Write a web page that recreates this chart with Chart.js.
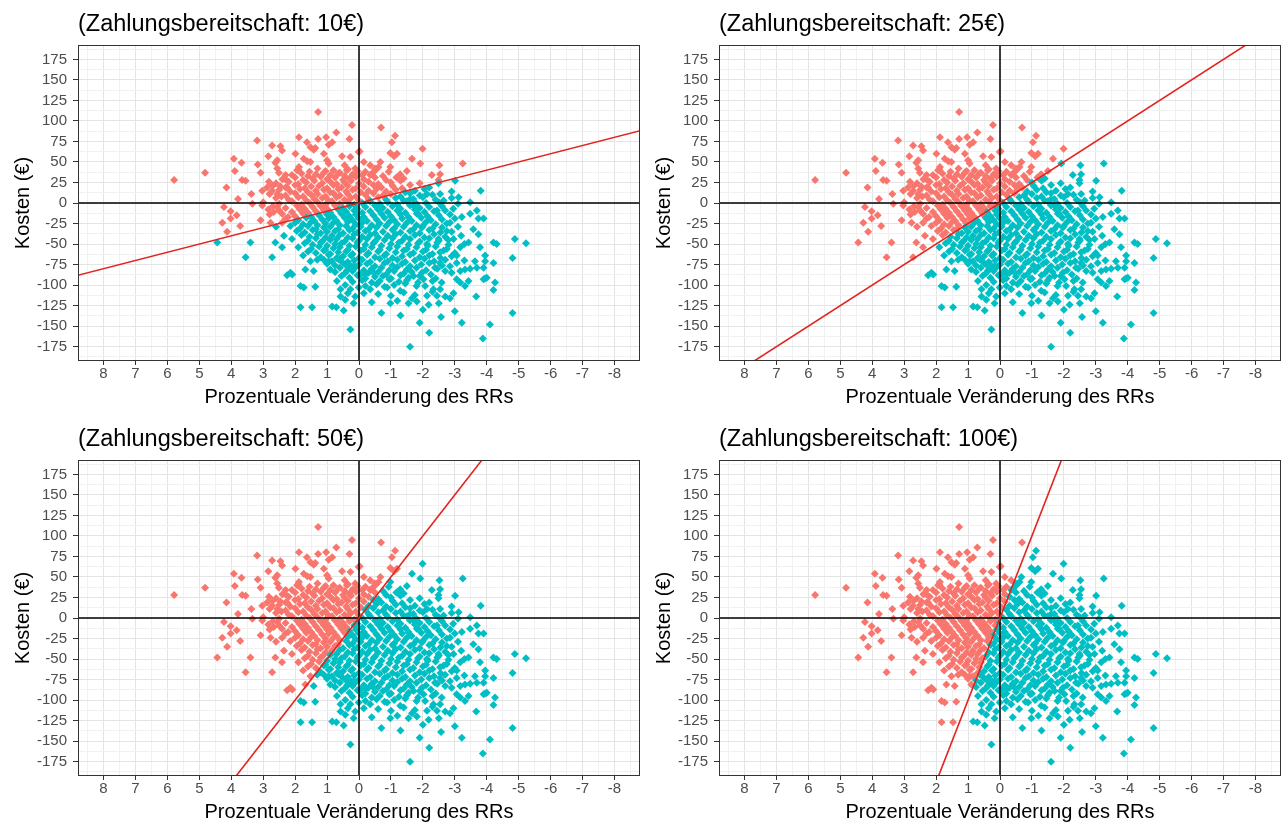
<!DOCTYPE html>
<html><head><meta charset="utf-8">
<script src="https://cdn.jsdelivr.net/npm/chart.js@4.4.1/dist/chart.umd.min.js"></script>
<style>
html,body{margin:0;padding:0;background:#fff;overflow:hidden;width:1282px;height:823px}
canvas{position:absolute}
</style></head><body>
<canvas id="p1" width="641" height="411" style="left:0;top:0"></canvas>
<canvas id="p2" width="641" height="411" style="left:641px;top:0"></canvas>
<canvas id="p3" width="641" height="411" style="left:0;top:415px"></canvas>
<canvas id="p4" width="641" height="411" style="left:641px;top:415px"></canvas>
<script>
// Zahlungsbereitschaft je Panel (€ pro Prozentpunkt RR-Veränderung)
const willingness = [10, 25, 50, 100];
const xTicks = [8,7,6,5,4,3,2,1,0,-1,-2,-3,-4,-5,-6,-7,-8];
const yTicks = [175,150,125,100,75,50,25,0,-25,-50,-75,-100,-125,-150,-175];
const xLimits = [-8.8, 8.8];
const yLimits = [-192.5, 192.5];

// [Veränderung RR (%), Kosten (€)]
const outerPoints = [
  [1.28,111],[0.22,95],[0.71,86],[3.19,76],[1.88,80],[1.63,74],[1.28,78],[1.03,80],[0.84,74],[0.95,71],[0.30,78],
  [2.72,70],[2.46,69],[2.41,64],[1.52,68],[1.42,65],[1.37,67],[1.99,60],[1.10,60],[0.53,57],[0.27,56],[0.01,62],
  [2.84,57],[2.56,52],[2.62,49],[1.73,54],[1.62,51],[1.52,50],[1.00,52],[0.95,48],[0.45,46],[3.92,54],[3.68,49],
  [3.17,47],[3.89,39],[3.08,37],[2.56,42],[2.51,37],[2.30,34],[1.94,40],[1.88,44],[0.38,40],[0.12,42],[4.82,37],
  [5.79,28],[3.66,28],[3.55,27],[2.82,26],[2.28,28],
  [-0.69,92],[-1.13,82],[-1.03,74],[-0.02,63],[-0.98,61],[-1.19,60],[-1.10,57],[-1.99,66],[-1.66,54],[-1.92,48],
  [-2.52,46],[-3.25,48],[-0.15,50],[-0.35,46],[-0.67,50],[-0.61,44],[-0.98,44],[-0.93,38],[-0.51,40],[-1.50,39],
  [-1.29,35],[-1.17,31],[-0.35,34],[-2.28,34],[-2.54,35],[-2.49,28],[-3.01,27],[-2.49,24],
  [4.15,19],[3.37,11],[3.79,5],[2.88,19],[3.03,15],[2.72,15],[2.56,11],[2.46,20],[2.25,19],[2.43,8],[4.23,-5],
  [4.02,-10],[3.83,-15],[4.02,-19],[4.28,-24],[3.72,-28],[4.13,-35],[3.34,-1],[3.03,-3],[2.84,-8],[2.67,-11],
  [2.56,-5],[2.41,-13],[2.22,-17],[3.08,-21],[2.77,-24],[2.41,-24],[4.44,-48],[3.40,-48],[3.55,-66],[2.62,-48],
  [2.41,-54],[2.72,-66],[2.15,-28],[2.35,-40],[2.25,-88],[2.15,-85],
  [1.52,-71],[1.31,-69],[0.95,-71],[1.68,-81],[1.42,-83],[2.09,-87],[1.83,-101],[1.73,-103],[1.37,-102],[0.69,-95],
  [0.58,-105],[0.43,-100],[0.27,-105],[0.58,-114],[0.43,-118],[0.12,-114],[0.17,-122],[1.83,-127],[1.47,-127],
  [0.84,-126],[0.71,-127],[0.48,-131],[0.27,-154],[-0.15,-110],[-0.35,-105],[-0.20,-87],[-0.46,-85],[-0.98,-122],
  [-1.29,-107],[-0.88,-103],[-1.60,-175],[-1.55,-122],[0.90,-81],[0.38,-83],[0.43,-75],[0.17,-77],[0.63,-69],[0.01,-103],
  [-4.81,-67],[-4.21,-73],[-4.26,-97],[-4.21,-106],[-3.95,-92],[-3.67,-114],[-4.81,-134],[-3.88,-165],[-3.22,-146],
  [-2.57,-139],[-2.00,-130],[-1.66,-116],[-1.81,-120],[-2.18,-124],[-2.13,-113],[-2.44,-113],[-2.70,-114],[-2.85,-116],
  [-2.96,-110],[-2.54,-105],[-2.33,-105],[-2.07,-101],[-2.02,-93],[-2.59,-97],[-3.06,-93],[-3.17,-97],[-3.32,-101],
  [-3.43,-95],[-3.90,-93],[-4.00,-91],[-3.69,-79],[-3.90,-79],[-3.48,-80],[-3.17,-83],[-3.32,-81],[-2.70,-83],
  [-2.85,-77],[-2.38,-79],[-1.97,-85],[-1.71,-89],[-2.54,-73],[-3.06,-73],[-3.63,-71],[-3.95,-71],
  [-3.81,15],[-3.12,7],[-3.48,1],[-3.69,-9],[-3.48,-13],[-3.22,-17],[-3.90,-19],[-3.74,-19],[-2.85,-24],[-3.58,-32],
  [-3.74,-38],[-4.21,-48],[-4.31,-50],[-4.88,-44],[-5.23,-49],[-3.43,-48],[-3.17,-54],[-2.96,-44],[-2.75,-34],
  [-2.49,-44],[-3.79,-54],[-3.95,-64],[-3.06,-64],[-2.54,-60],[-2.13,-50],[-1.97,-30],[-1.81,-13],[-2.13,11],
  [-2.54,11],[-2.65,3],[-2.44,-9],[-1.60,5],[-1.71,-3]
];

const coreUpper = [
  [1.9,41],[1.55,38],[1.3,42],[1.05,39],[0.8,40],[0.6,37],[0.35,41],[0.05,39],[-0.2,38],[-0.5,42],
  [2.1,34],[1.8,36],[1.6,33],[1.35,35],[1.1,37],[0.9,34],[0.65,36],[0.45,33],[0.2,35],[-0.1,34],[-0.4,36],[-0.75,33],
  [2.4,29],[2.0,31],[1.75,28],[1.45,30],[1.2,32],[1.0,29],[0.75,31],[0.5,28],[0.3,30],[0.1,32],[-0.15,29],[-0.5,31],[-0.85,28],[-1.4,30],
  [2.6,24],[2.2,26],[1.9,23],[1.65,25],[1.4,27],[1.15,24],[0.9,26],[0.7,23],[0.45,25],[0.25,27],[0.0,24],[-0.3,26],[-0.6,23],[-1.0,25],[-1.3,27],[-1.9,24],
  [2.7,21],[2.3,19],[2.0,22],[1.7,18],[1.5,20],[1.25,21],[1.0,18],[0.8,22],[0.55,19],[0.35,21],[0.1,18],[-0.15,20],[-0.45,22],[-0.7,19],[-1.05,21],[-1.35,18],[-1.6,22],[-2.2,19],
  [2.5,16],[2.15,14],[1.85,17],[1.6,13],[1.35,15],[1.1,16],[0.9,13],[0.65,17],[0.4,14],[0.2,16],[-0.05,13],[-0.3,15],[-0.55,17],[-0.85,14],[-1.15,16],[-1.45,13],[-1.75,15],[-2.05,17],[-2.9,14],
  [2.8,11],[2.3,9],[2.0,12],[1.75,8],[1.5,10],[1.3,11],[1.05,8],[0.8,12],[0.6,9],[0.35,11],[0.1,8],[-0.2,10],[-0.45,12],[-0.75,9],[-1.0,11],[-1.3,8],[-1.6,12],[-1.9,9],[-2.3,10],
  [2.6,6],[2.2,4],[1.9,7],[1.65,3],[1.4,5],[1.15,6],[0.95,3],[0.7,7],[0.45,4],[0.25,6],[0.0,3],[-0.3,5],[-0.6,7],[-0.85,4],[-1.15,6],[-1.4,3],[-1.7,5],[-2.0,7],[-2.4,4],[-2.9,6],
  [3.0,1],[2.5,-1],[2.1,2],[1.8,-2],[1.55,0],[1.3,1],[1.05,-2],[0.85,2],[0.6,-1],[0.35,1],[0.15,-2],[-0.1,0],[-0.35,2],[-0.65,-1],[-0.9,1],[-1.2,-2],[-1.5,2],[-1.8,-1],[-2.1,0],[-2.5,1],[-3.1,-1]
];

const coreLower = [
  [2.7,-4],[2.3,-6],[1.95,-3],[1.7,-7],[1.45,-5],[1.2,-4],[1.0,-7],[0.75,-3],[0.5,-6],[0.3,-4],[0.05,-7],[-0.2,-5],[-0.5,-3],[-0.75,-6],[-1.05,-4],[-1.3,-7],[-1.6,-3],[-1.9,-6],[-2.2,-5],[-2.6,-4],[-2.95,-7],
  [2.5,-9],[2.1,-11],[1.85,-8],[1.6,-12],[1.35,-10],[1.1,-9],[0.9,-12],[0.65,-8],[0.4,-11],[0.15,-9],[-0.1,-12],[-0.35,-10],[-0.6,-8],[-0.9,-11],[-1.2,-9],[-1.45,-12],[-1.75,-8],[-2.05,-11],[-2.35,-10],[-2.7,-9],
  [2.8,-14],[2.0,-16],[1.75,-13],[1.5,-17],[1.25,-15],[1.0,-14],[0.8,-17],[0.55,-13],[0.3,-16],[0.1,-14],[-0.15,-17],[-0.45,-15],[-0.7,-13],[-1.0,-16],[-1.3,-14],[-1.55,-17],[-1.85,-13],[-2.15,-16],[-2.5,-15],[-2.85,-14],
  [2.3,-19],[1.9,-21],[1.65,-18],[1.4,-22],[1.15,-20],[0.95,-19],[0.7,-22],[0.45,-18],[0.2,-21],[0.0,-19],[-0.25,-22],[-0.55,-20],[-0.8,-18],[-1.1,-21],[-1.35,-19],[-1.65,-22],[-1.95,-18],[-2.25,-21],[-2.6,-20],[-3.0,-19],
  [2.0,-24],[1.75,-26],[1.5,-23],[1.3,-27],[1.05,-25],[0.8,-24],[0.6,-27],[0.35,-23],[0.1,-26],[-0.1,-24],[-0.4,-27],[-0.65,-25],[-0.95,-23],[-1.2,-26],[-1.5,-24],[-1.8,-27],[-2.1,-23],[-2.4,-26],[-2.75,-25],
  [2.6,-29],[1.85,-31],[1.6,-28],[1.35,-32],[1.1,-30],[0.9,-29],[0.65,-32],[0.4,-28],[0.2,-31],[-0.05,-29],[-0.3,-32],[-0.55,-30],[-0.85,-28],[-1.1,-31],[-1.4,-29],[-1.7,-32],[-2.0,-28],[-2.3,-31],[-2.6,-30],[-3.1,-29],
  [1.95,-34],[1.7,-36],[1.45,-33],[1.2,-37],[1.0,-35],[0.75,-34],[0.5,-37],[0.3,-33],[0.05,-36],[-0.2,-34],[-0.5,-37],[-0.75,-35],[-1.05,-33],[-1.3,-36],[-1.6,-34],[-1.9,-37],[-2.2,-33],[-2.55,-36],[-2.9,-35],
  [1.8,-39],[1.55,-41],[1.3,-38],[1.05,-42],[0.85,-40],[0.6,-39],[0.35,-42],[0.15,-38],[-0.1,-41],[-0.35,-39],[-0.6,-42],[-0.9,-40],[-1.15,-38],[-1.45,-41],[-1.75,-39],[-2.05,-42],[-2.35,-38],[-2.7,-41],[-3.2,-40],
  [2.1,-44],[1.6,-46],[1.35,-43],[1.15,-47],[0.9,-45],[0.7,-44],[0.45,-47],[0.2,-43],[0.0,-46],[-0.25,-44],[-0.5,-47],[-0.8,-45],[-1.05,-43],[-1.35,-46],[-1.6,-44],[-1.9,-47],[-2.2,-43],[-2.5,-46],[-2.8,-45],
  [1.7,-49],[1.45,-51],[1.2,-48],[1.0,-52],[0.75,-50],[0.55,-49],[0.3,-52],[0.05,-48],[-0.2,-51],[-0.45,-49],[-0.7,-52],[-1.0,-50],[-1.25,-48],[-1.55,-51],[-1.85,-49],[-2.15,-52],[-2.45,-48],[-2.8,-51],[-3.3,-50],
  [1.9,-54],[1.5,-56],[1.25,-53],[1.05,-57],[0.8,-55],[0.6,-54],[0.35,-57],[0.1,-53],[-0.15,-56],[-0.4,-54],[-0.65,-57],[-0.95,-55],[-1.2,-53],[-1.5,-56],[-1.8,-54],[-2.1,-57],[-2.4,-53],[-2.75,-56],
  [1.6,-59],[1.35,-61],[1.1,-58],[0.9,-62],[0.65,-60],[0.4,-59],[0.2,-62],[-0.05,-58],[-0.3,-61],[-0.6,-59],[-0.85,-62],[-1.15,-60],[-1.4,-58],[-1.7,-61],[-2.0,-59],[-2.3,-62],[-2.65,-58],[-3.0,-61],
  [1.75,-64],[1.2,-66],[0.95,-63],[0.7,-67],[0.5,-65],[0.25,-64],[0.0,-67],[-0.25,-63],[-0.5,-66],[-0.8,-64],[-1.05,-67],[-1.35,-65],[-1.6,-63],[-1.9,-66],[-2.2,-64],[-2.55,-67],[-2.9,-65],
  [1.1,-69],[0.85,-71],[0.6,-68],[0.35,-72],[0.15,-70],[-0.1,-69],[-0.35,-72],[-0.65,-68],[-0.9,-71],[-1.2,-69],[-1.45,-72],[-1.75,-70],[-2.05,-68],[-2.35,-71],[-2.7,-69],[-3.3,-70],
  [1.0,-74],[0.75,-76],[0.5,-73],[0.25,-77],[0.0,-75],[-0.25,-74],[-0.5,-77],[-0.8,-73],[-1.05,-76],[-1.35,-74],[-1.6,-77],[-1.95,-75],[-2.2,-73],[-2.6,-76],
  [0.6,-79],[0.35,-81],[0.1,-78],[-0.15,-82],[-0.4,-80],[-0.7,-79],[-0.95,-82],[-1.2,-78],[-1.5,-81],[-1.8,-79],[-2.1,-82],[-2.45,-80],
  [0.75,-84],[0.45,-86],[0.2,-83],[-0.05,-87],[-0.3,-85],[-0.6,-84],[-0.85,-87],[-1.1,-83],[-1.4,-86],[-1.65,-84],[-2.25,-87],[-2.9,-85],
  [0.55,-89],[0.3,-91],[0.05,-88],[-0.2,-92],[-0.5,-90],[-0.75,-89],[-1.0,-92],[-1.3,-88],[-1.55,-91],[-1.9,-89],[-2.4,-92],
  [0.2,-96],[-0.1,-94],[-0.4,-97],[-0.65,-95],[-0.95,-93],[-1.25,-96],[-1.5,-94],[-1.85,-97],[-2.3,-95],
  [-0.2,-101],[-0.55,-99],[-0.8,-102],[-1.1,-100],[-1.45,-98],[-1.8,-101],
  [0.35,-110],[-0.6,-111],[-1.0,-113],[-1.4,-109],[-1.75,-112],[-2.3,-108],[-0.4,-121],[-1.2,-119],[-2.5,-122],
  [-0.7,-134],[-1.3,-137],[-3.0,-132],[-1.9,-146],[-4.1,-148],[-2.2,-158]
];

const points = [...outerPoints, ...coreUpper, ...coreLower];

const RED = '#F8766D', TEAL = '#00BFC4', LINE = '#e2231e';
const FONT = "'Liberation Sans', Arial, sans-serif";

function tickList(major) {
  const step = Math.abs(major[0] - major[1]);
  const asc = [...major].sort((a, b) => a - b);
  const minor = asc.map(v => v - step / 2).concat([asc[asc.length - 1] + step / 2]);
  return asc.concat(minor).sort((a, b) => a - b);
}
const xAll = tickList(xTicks), yAll = tickList(yTicks);
const xMajor = new Set(xTicks), yMajor = new Set(yTicks);

const frame = {
  id: 'frame',
  afterDraw(chart) {
    const {ctx, chartArea: a} = chart;
    ctx.save();
    ctx.strokeStyle = '#333333'; ctx.lineWidth = 1;
    ctx.strokeRect(Math.round(a.left) + 0.5, Math.round(a.top) + 0.5, Math.round(a.right - a.left) - 1, Math.round(a.bottom - a.top) - 1);
    ctx.restore();
  }
};

function axis(all, majorSet, limits, tickLen, tickPad, extra) {
  return Object.assign({
    type: 'linear', min: limits[0], max: limits[1],
    afterBuildTicks: s => { s.ticks = all.map(v => ({value: v})); },
    border: {display: false},
    grid: {
      color: c => majorSet.has(c.tick.value) ? '#e4e4e4' : '#f1f1f1',
      lineWidth: 1,
      tickColor: c => majorSet.has(c.tick.value) ? '#333333' : 'rgba(0,0,0,0)',
      tickLength: tickLen, tickWidth: 1
    },
    ticks: {
      autoSkip: false, maxRotation: 0, minRotation: 0, color: '#4d4d4d', padding: tickPad,
      font: {family: FONT, size: 15},
      callback: v => majorSet.has(v) ? String(v) : ''
    }
  }, extra);
}

function panel(id, wtp) {
  const far = 9;
  new Chart(document.getElementById(id), {
    type: 'scatter',
    data: {datasets: [
      {data: [{x: far, y: -far * wtp}, {x: -far, y: far * wtp}], showLine: true, borderColor: LINE, borderWidth: 1.6, pointRadius: 0, order: 1},
      {data: [{x: xLimits[0], y: 0}, {x: xLimits[1], y: 0}], showLine: true, borderColor: '#000', borderWidth: 1.5, pointRadius: 0, order: 2},
      {data: [{x: 0, y: yLimits[0]}, {x: 0, y: yLimits[1]}], showLine: true, borderColor: '#000', borderWidth: 1.5, pointRadius: 0, order: 2},
      {data: points.map(([x, y]) => ({x, y})), pointStyle: 'rectRot', pointRadius: 4, pointBorderWidth: 0,
       pointBackgroundColor: points.map(([x, y]) => y > -wtp * x ? RED : TEAL), order: 3}
    ]},
    options: {
      responsive: false, animation: false, devicePixelRatio: 1,
      layout: {autoPadding: false, padding: {left: 0, right: 1, top: 0, bottom: 0}},
      plugins: {
        legend: {display: false}, tooltip: {enabled: false},
        title: {display: true, text: '(Zahlungsbereitschaft: ' + wtp + '€)', align: 'start', fullSize: false,
          color: '#000', font: {family: FONT, size: 23.5, weight: 'normal'}, padding: {top: 10, bottom: 6.8}}
      },
      scales: {
        x: axis(xAll, xMajor, xLimits, 4, 0, {
          reverse: true,
          afterFit: s => { s.height = 50; },
          title: {display: true, text: 'Prozentuale Veränderung des RRs', color: '#000', font: {family: FONT, size: 20}, padding: {top: 0, bottom: 2}}
        }),
        y: axis(yAll, yMajor, yLimits, 5, 6, {
          afterFit: s => { s.width = 78; },
          title: {display: true, text: 'Kosten (€)', color: '#000', font: {family: FONT, size: 20}, padding: {top: 11, bottom: 0}}
        })
      }
    },
    plugins: [frame]
  });
}

['p1', 'p2', 'p3', 'p4'].forEach((id, i) => panel(id, willingness[i]));
</script>
</body></html>
